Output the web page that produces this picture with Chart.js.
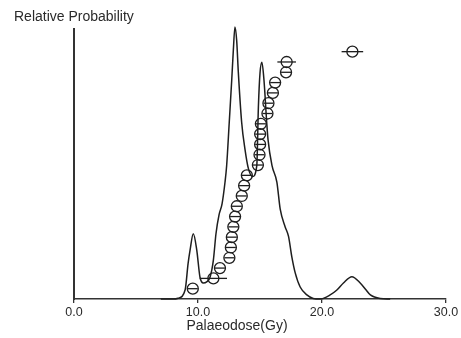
<!DOCTYPE html>
<html>
<head>
<meta charset="utf-8">
<script src="https://cdn.jsdelivr.net/npm/chart.js@4"></script>
<style>
  body { margin: 0; background: #fff; }
  canvas { display: block; }
</style>
</head>
<body>
<canvas id="doseChart" width="461" height="338"></canvas>
<script>
// Equivalent doses (Gy), their 1-sigma errors, plotted in rank order
const doseValues = [9.58, 11.24, 11.77, 12.53, 12.65, 12.73, 12.85, 12.99, 13.13, 13.53, 13.72, 13.94,
    14.83, 14.96, 15.01, 15.01, 15.07, 15.60, 15.68, 16.04, 16.22, 17.10, 17.15, 22.45];
const doseErrors = [0.4, 1.1, 0.4, 0.4, 0.4, 0.4, 0.4, 0.4, 0.4, 0.4, 0.4, 0.4,
    0.4, 0.4, 0.4, 0.4, 0.4, 0.4, 0.4, 0.4, 0.4, 0.4, 0.75, 0.87];
const doseRanks = doseValues.map((v, i) => i + 1);

// Summed probability curve
const curveX = [7.0, 8.0, 8.4, 8.96, 9.2, 9.36, 9.62, 9.9, 10.16, 10.43, 10.7, 10.97, 11.24, 11.45, 11.7,
    11.94, 12.18, 12.31, 12.52, 12.72, 12.85, 12.98, 13.12, 13.25, 13.52, 13.79, 14.06, 14.4, 14.74,
    14.87, 15.0, 15.15, 15.32, 15.54, 15.65, 15.97, 16.36, 16.63, 17.03, 17.3, 17.57, 17.84, 18.24,
    18.78, 19.29, 19.85, 20.66, 21.2, 21.73, 22.41, 23.08, 23.56, 23.9, 24.7, 25.5];
const curveY = [0, 0, 0.3, 3.3, 13, 18, 24, 18, 8, 5.9, 6.3, 8, 14.3, 24, 31,
    35, 43, 49, 65, 80.5, 91.5, 100, 95, 83.5, 65, 55, 48, 45, 49,
    70.6, 83, 87, 80.5, 65, 58.5, 49, 43, 33, 26.5, 23, 15.4, 9.6, 4.4,
    1.5, 0.2, 0, 1.5, 3.3, 5.9, 8.2, 5.9, 3.3, 1.5, 0.2, 0];

const xTicks = [0, 10, 20, 30];

const ink = '#1e1e1e';

// horizontal error bars through the circles
const errorBars = {
    id: 'errorBars',
    afterDatasetsDraw(chart) {
        const ctx = chart.ctx;
        const xs = chart.scales.x, ys = chart.scales.y;
        ctx.save();
        ctx.strokeStyle = ink;
        ctx.lineWidth = 1.3;
        doseValues.forEach((v, i) => {
            const py = ys.getPixelForValue(doseRanks[i]);
            ctx.beginPath();
            ctx.moveTo(xs.getPixelForValue(v - doseErrors[i]), py);
            ctx.lineTo(xs.getPixelForValue(v + doseErrors[i]), py);
            ctx.stroke();
        });
        ctx.restore();
    }
};

// axis captions
const captions = {
    id: 'captions',
    afterDraw(chart) {
        const ctx = chart.ctx;
        const area = chart.chartArea;
        ctx.save();
        ctx.fillStyle = '#2a2a2a';
        ctx.font = '14px "Liberation Sans", Arial, sans-serif';
        ctx.textBaseline = 'middle';
        ctx.textAlign = 'left';
        ctx.fillText('Relative Probability', 14, 17);
        ctx.textAlign = 'center';
        ctx.fillText('Palaeodose(Gy)', area.left + 163, 326);
        ctx.restore();
    }
};

new Chart(document.getElementById('doseChart'), {
    type: 'scatter',
    data: {
        datasets: [{
            label: 'Doses',
            data: doseValues.map((v, i) => ({ x: v, y: doseRanks[i] })),
            yAxisID: 'y',
            pointStyle: 'circle',
            pointRadius: 5.5,
            pointHoverRadius: 5.5,
            borderColor: ink,
            borderWidth: 1.3,
            backgroundColor: 'rgba(0,0,0,0)'
        }, {
            label: 'Probability',
            type: 'line',
            data: curveX.map((x, i) => ({ x: x, y: curveY[i] })),
            yAxisID: 'y2',
            borderColor: ink,
            borderWidth: 1.5,
            pointRadius: 0,
            cubicInterpolationMode: 'monotone',
            fill: false,
            clip: false
        }]
    },
    options: {
        responsive: false,
        animation: false,
        events: [],
        layout: { padding: { left: 74, right: 15, top: 29, bottom: 19 } },
        plugins: {
            legend: { display: false },
            tooltip: { enabled: false }
        },
        scales: {
            x: {
                type: 'linear',
                min: 0,
                max: 30,
                afterFit(scale) { scale.height = 20; },
                afterBuildTicks(scale) { scale.ticks = xTicks.map(v => ({ value: v })); },
                grid: { drawOnChartArea: false, tickLength: 4, color: '#333', lineWidth: 1.3 },
                border: { color: '#333', width: 1.5 },
                ticks: {
                    padding: 2,
                    color: '#2a2a2a',
                    font: { family: '"Liberation Sans", Arial, sans-serif', size: 12.5 },
                    callback: v => v.toFixed(1)
                }
            },
            y: {
                min: 0,
                max: 26.2,
                afterFit(scale) { scale.width = 0; },
                grid: { display: false },
                border: { color: '#333', width: 2 },
                ticks: { display: false }
            },
            y2: {
                display: false,
                min: 0,
                max: 99.26
            }
        }
    },
    plugins: [errorBars, captions]
});
</script>
</body>
</html>
